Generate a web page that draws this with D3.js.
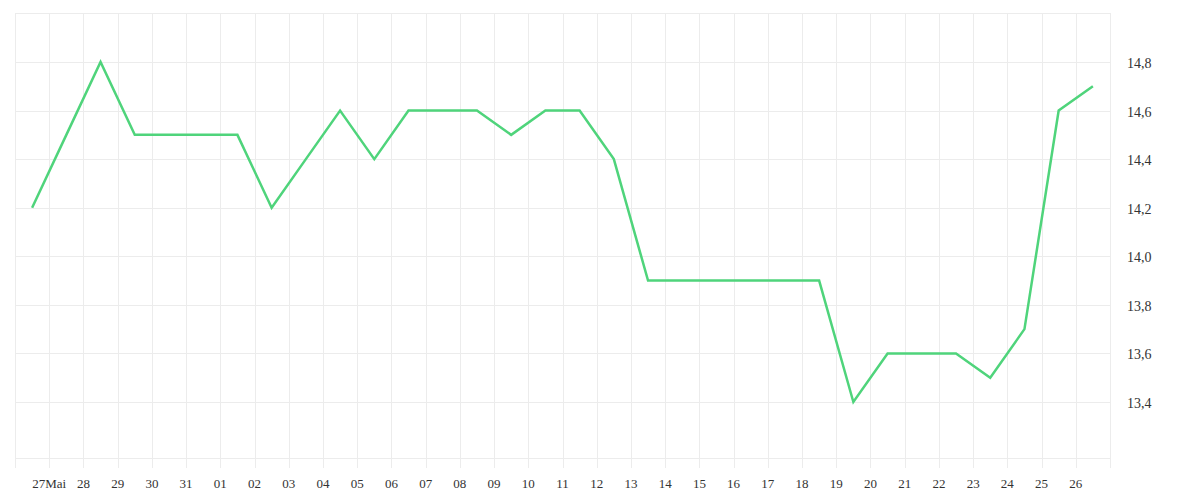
<!DOCTYPE html>
<html>
<head>
<meta charset="utf-8">
<script src="https://cdn.jsdelivr.net/npm/d3@7"></script>
<style>
html,body{margin:0;padding:0;background:#fff;}
svg{display:block;}
text{font-family:"Liberation Serif","DejaVu Serif",serif;fill:#333;}
</style>
</head>
<body>
<svg id="chart" width="1200" height="500"></svg>
<script>
// Data: daily values (noon of each day), 26 May .. 26 June
const dates = [
 "2024-05-26","2024-05-27","2024-05-28","2024-05-29","2024-05-30","2024-05-31",
 "2024-06-01","2024-06-02","2024-06-03","2024-06-04","2024-06-05","2024-06-06",
 "2024-06-07","2024-06-08","2024-06-09","2024-06-10","2024-06-11","2024-06-12",
 "2024-06-13","2024-06-14","2024-06-15","2024-06-16","2024-06-17","2024-06-18",
 "2024-06-19","2024-06-20","2024-06-21","2024-06-22","2024-06-23","2024-06-24",
 "2024-06-25","2024-06-26"
];
const values = [
 14.2,14.5,14.8,14.5,14.5,14.5,
 14.5,14.2,14.4,14.6,14.4,14.6,
 14.6,14.6,14.5,14.6,14.6,14.4,
 13.9,13.9,13.9,13.9,13.9,13.9,
 13.4,13.6,13.6,13.6,13.5,13.7,
 14.6,14.7
];
const yTicks = [13.4,13.6,13.8,14.0,14.2,14.4,14.6,14.8];
const xStart = "2024-05-26", xEnd = "2024-06-27";

const parse = d3.utcParse("%Y-%m-%d");
const svg = d3.select("#chart");
const pLeft = 15, pRight = 1110, pTop = 13, pBottom = 458;

const x = d3.scaleUtc().domain([parse(xStart), parse(xEnd)]).range([pLeft, pRight]);
// y scale calibrated so that 13.4 -> 402 and 14.8 -> 62
const y = d3.scaleLinear().domain([13.4, 14.8]).range([402, 62]);

const grid = svg.append("g").attr("stroke", "#ececec").attr("stroke-width", 1).attr("shape-rendering","crispEdges");
// vertical day lines
const days = d3.utcDay.range(parse(xStart), d3.utcDay.offset(parse(xEnd), 1));
grid.selectAll("line.v").data(days).join("line")
  .attr("x1", d => Math.round(x(d)) + 0.5).attr("x2", d => Math.round(x(d)) + 0.5)
  .attr("y1", pTop).attr("y2", pBottom + 10);
// horizontal lines
grid.selectAll("line.h").data(yTicks).join("line")
  .attr("x1", pLeft).attr("x2", pRight)
  .attr("y1", d => Math.round(y(d)) + 0.5).attr("y2", d => Math.round(y(d)) + 0.5);
grid.append("line").attr("x1", pLeft).attr("x2", pRight).attr("y1", pTop + 0.5).attr("y2", pTop + 0.5);
grid.append("line").attr("x1", pLeft).attr("x2", pRight).attr("y1", pBottom + 0.5).attr("y2", pBottom + 0.5);

// y labels on right
svg.append("g").selectAll("text").data(yTicks).join("text")
  .attr("x", 1127).attr("y", d => y(d) + 6)
  .attr("font-size", 14)
  .text(d => d3.format(".1f")(d).replace(".", ","));

// x labels
const labelDays = d3.utcDay.range(d3.utcDay.offset(parse(xStart), 1), parse(xEnd));
svg.append("g").selectAll("text").data(labelDays).join("text")
  .attr("x", d => x(d)).attr("y", 488)
  .attr("text-anchor", "middle")
  .attr("font-size", 13)
  .text(d => d.getUTCDate() === 27 && d.getUTCMonth() === 4 ? "27Mai" : d3.utcFormat("%d")(d));

// line
const pts = dates.map((d, i) => ({ t: d3.utcHour.offset(parse(d), 12), v: values[i] }));
svg.append("path").datum(pts)
  .attr("fill", "none").attr("stroke", "#4fd47b").attr("stroke-width", 2.5)
  .attr("stroke-linejoin", "miter")
  .attr("d", d3.line().x(d => x(d.t)).y(d => y(d.v)));
</script>
</body>
</html>
